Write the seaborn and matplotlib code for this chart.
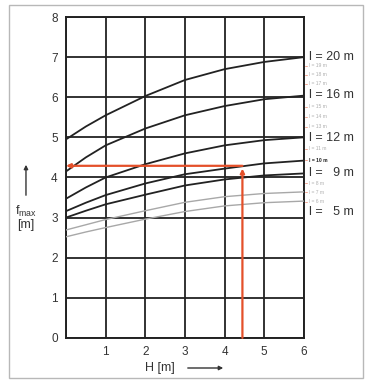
import numpy as np
import pandas as pd
import matplotlib
matplotlib.use("Agg")
import matplotlib.pyplot as plt
from matplotlib.patches import Rectangle
import seaborn as sns

sns.set_theme(style="white")
plt.rcParams['font.family'] = ['Liberation Sans', 'DejaVu Sans']

# --- datos ---
H = [0, 0.5, 1, 2, 3, 4, 5, 6]
f_l20 = [4.95, 5.27, 5.55, 6.03, 6.43, 6.70, 6.88, 7.00]
f_l16 = [4.15, 4.50, 4.80, 5.22, 5.55, 5.78, 5.95, 6.04]
f_l12 = [3.47, 3.75, 4.00, 4.33, 4.60, 4.80, 4.93, 5.00]
f_l10 = [3.16, 3.37, 3.56, 3.85, 4.08, 4.22, 4.35, 4.42]
f_l9 = [3.00, 3.17, 3.33, 3.57, 3.80, 3.95, 4.05, 4.10]
f_l7 = [2.69, 2.82, 2.95, 3.17, 3.38, 3.52, 3.60, 3.64]
f_l6 = [2.52, 2.64, 2.75, 2.96, 3.15, 3.29, 3.37, 3.41]

big_labels = ["l = 20 m", "l = 16 m", "l = 12 m", "l =   9 m", "l =   5 m"]
big_y = [7.0, 6.05, 4.98, 4.10, 3.14]
small_labels = ["l = 19 m", "l = 18 m", "l = 17 m", "l = 15 m", "l = 14 m", "l = 13 m",
                "l = 11 m", "l = 10 m", "l = 8 m", "l = 7 m", "l = 6 m"]
small_y = [6.78, 6.56, 6.34, 5.76, 5.51, 5.26, 4.71, 4.43, 3.85, 3.63, 3.40]

# lectura del ejemplo (flechas rojas)
H_read = 4.45
f_read = 4.29

dark_curves = [f_l20, f_l16, f_l12, f_l10, f_l9]
light_curves = [f_l7, f_l6]

fig = plt.figure(figsize=(3.71, 3.87), dpi=100)
ax = fig.add_axes([0.178, 0.127, 0.641, 0.829])

for f in light_curves:
    sns.lineplot(x=H, y=f, ax=ax, color="#a8a8a8", lw=1.0, zorder=3)
for f in dark_curves:
    sns.lineplot(x=H, y=f, ax=ax, color="#222222", lw=1.3, zorder=3)

ax.set_xlim(0, 6)
ax.set_ylim(0, 8)
ax.set_xticks(range(0, 7))
ax.set_xticklabels([""] + [str(i) for i in range(1, 7)])
ax.set_yticks(range(0, 9))
ax.grid(True, color="#222222", lw=1.3)
for s in ax.spines.values():
    s.set_color("#222222")
    s.set_linewidth(1.4)
ax.tick_params(axis="both", length=0, labelsize=8.5, colors="#333333", pad=6)

red = "#e4502a"
# flecha vertical hasta la curva l = 10 m
ax.annotate("", xy=(H_read, 4.22), xytext=(H_read, 0),
            arrowprops=dict(arrowstyle="-|>", color=red, lw=1.6,
                            mutation_scale=6, shrinkA=0, shrinkB=0), zorder=5)
# flecha horizontal hasta el eje
ax.annotate("", xy=(0, f_read), xytext=(H_read, f_read),
            arrowprops=dict(arrowstyle="-|>", color=red, lw=1.6,
                            mutation_scale=6, shrinkA=0, shrinkB=0), zorder=5)

# etiquetas de las curvas a la derecha
for lab, y in zip(big_labels, big_y):
    ax.text(6.12, y, lab, ha="left", va="center", fontsize=9, color="#333333",
            clip_on=False)
for lab, y in zip(small_labels, small_y):
    bold = lab == "l = 10 m"
    ax.text(6.12, y, lab, ha="left", va="center", fontsize=3.6,
            color="#222222" if bold else "#b0b0b0",
            fontweight="bold" if bold else "normal", clip_on=False)
    ax.plot([6.02, 6.07], [y, y], color=red, lw=0.6, alpha=0.6, clip_on=False)

# marco exterior
fig.patches.append(Rectangle((0.024, 0.023), 0.954, 0.964, transform=fig.transFigure,
                             fill=False, edgecolor="#b8b8b8", lw=1.0))

# título del eje y con flecha
fig.add_artist(matplotlib.patches.FancyArrowPatch(
    (0.07, 1 - 198 / 387), (0.07, 1 - 162 / 387), transform=fig.transFigure,
    arrowstyle="-|>", mutation_scale=6, color="#333333", lw=1.0))
fig.text(0.07, 1 - 211 / 387, r"$\mathregular{f_{max}}$", ha="center", va="center",
         fontsize=9, color="#333333")
fig.text(0.07, 1 - 225 / 387, "[m]", ha="center", va="center", fontsize=9, color="#333333")

# título del eje x con flecha
fig.text(0.43, 1 - 368 / 387, "H [m]", ha="center", va="center", fontsize=9, color="#333333")
fig.add_artist(matplotlib.patches.FancyArrowPatch(
    (185 / 371, 1 - 368 / 387), (226 / 371, 1 - 368 / 387), transform=fig.transFigure,
    arrowstyle="-|>", mutation_scale=6, color="#333333", lw=1.0))

fig.savefig("out.png", dpi=100, facecolor="white")
